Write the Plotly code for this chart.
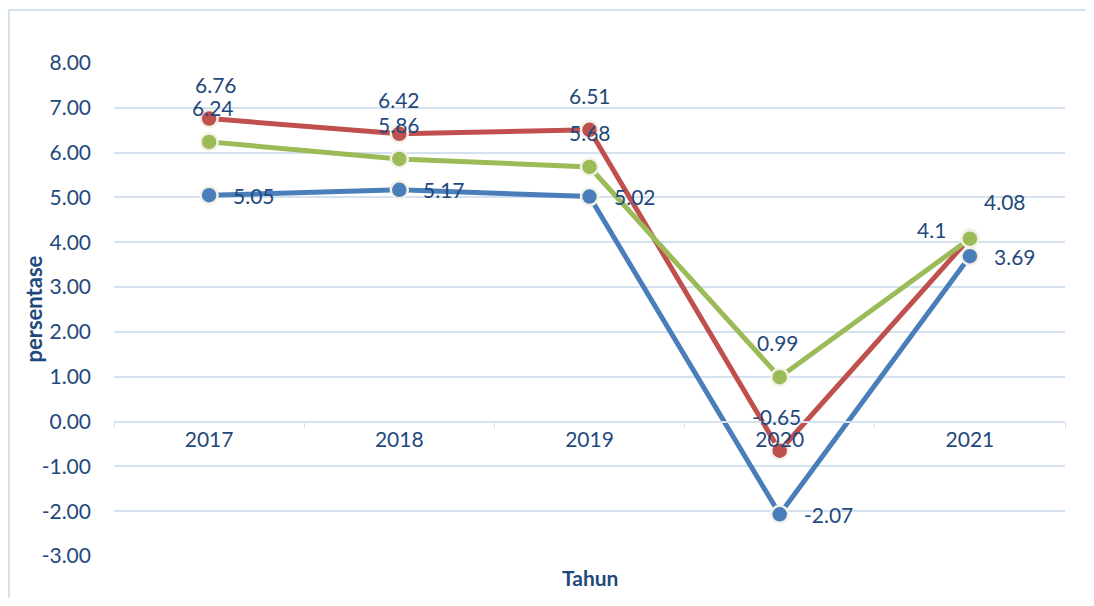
import plotly.graph_objects as go

years = ["2017", "2018", "2019", "2020", "2021"]
series_blue = [5.05, 5.17, 5.02, -2.07, 3.69]
series_red = [6.76, 6.42, 6.51, -0.65, 4.1]
series_green = [6.24, 5.86, 5.68, 0.99, 4.08]
y_ticks = [8, 7, 6, 5, 4, 3, 2, 1, 0, -1, -2, -3]
y_tick_text = ["%.2f" % v for v in y_ticks]

TEXT = "#1F497D"
GRID = "#D6E1F0"
FONT = "Lato"

series = [
    ("blue", series_blue, "#4A7EBB"),
    ("red", series_red, "#C0504D"),
    ("green", series_green, "#9BBB59"),
]

# label placement (pixel shifts) per series / point
label_shift = {
    "blue": [(22, 0, "left")] * 5,
    "red": [(7, 34, "center"), (0, 34, "center"), (0, 34, "center"), (-3, 34, "center"), (-38, 8, "center")],
    "green": [(4, 34, "center"), (0, 34, "center"), (0, 34, "center"), (-2, 35, "center"), (35, 37, "center")],
}

fig = go.Figure()
annotations = []
for name, vals, col in series:
    fig.add_trace(go.Scatter(
        x=years, y=vals, mode="lines+markers", name=name,
        line=dict(color=col, width=5),
        marker=dict(size=17, color=col, line=dict(color="#F4F1E6", width=2.5)),
        showlegend=False, hoverinfo="x+y",
    ))
    for i, v in enumerate(vals):
        dx, dy, anch = label_shift[name][i]
        annotations.append(dict(
            x=i, y=v, xref="x", yref="y", text=str(v), showarrow=False,
            xanchor=anch, yanchor="middle", xshift=dx, yshift=dy,
            font=dict(family=FONT, size=21, color=TEXT),
        ))

# page body has an 8px margin; compensate so plot area lands at 114..1065 x 63..556
OFF = 8
W, H = 1094 - 2 * OFF, 606 - 2 * OFF
pw, ph = 951, 493
ml, mt = 114 - OFF, 63 - OFF
mr, mb = W - ml - pw, H - mt - ph

annotations.append(dict(
    x=0.5, y=-(577 - 556) / ph, xref="paper", yref="paper", text="<b>Tahun</b>", showarrow=False,
    xanchor="center", yanchor="middle", font=dict(family=FONT, size=21, color=TEXT),
))
annotations.append(dict(
    x=(33 - 114) / pw, y=0.5, xref="paper", yref="paper", text="<b>persentase</b>", showarrow=False,
    xanchor="center", yanchor="middle", textangle=-90,
    font=dict(family=FONT, size=22, color=TEXT),
))

fig.update_layout(
    width=W, height=H,
    margin=dict(l=ml, r=mr, t=mt, b=mb, autoexpand=False),
    paper_bgcolor="white", plot_bgcolor="white",
    annotations=annotations,
    shapes=[dict(
        type="rect", xref="paper", yref="paper",
        x0=(1 - ml) / pw, x1=(W + 20 - ml) / pw,
        y0=-(mb + 20) / ph, y1=1 + (mt - 2) / ph,
        line=dict(color=GRID, width=2), layer="below",
    )],
    xaxis=dict(
        type="category", range=[-0.5, 4.5], automargin=False,
        anchor="free", position=3 / 11,
        showline=True, linecolor=GRID, linewidth=1.5,
        ticks="outside", tickson="boundaries", ticklen=6, tickcolor=GRID,
        showgrid=False, zeroline=False,
        tickfont=dict(family=FONT, size=21, color=TEXT),
    ),
    yaxis=dict(
        range=[-3, 8], tickvals=y_ticks, ticktext=y_tick_text, automargin=False,
        showgrid=True, gridcolor=GRID, gridwidth=1.5,
        zeroline=False, showline=False, ticks="",
        ticklabelstandoff=22,
        tickfont=dict(family=FONT, size=21, color=TEXT),
    ),
)

fig.write_html("out.html")
